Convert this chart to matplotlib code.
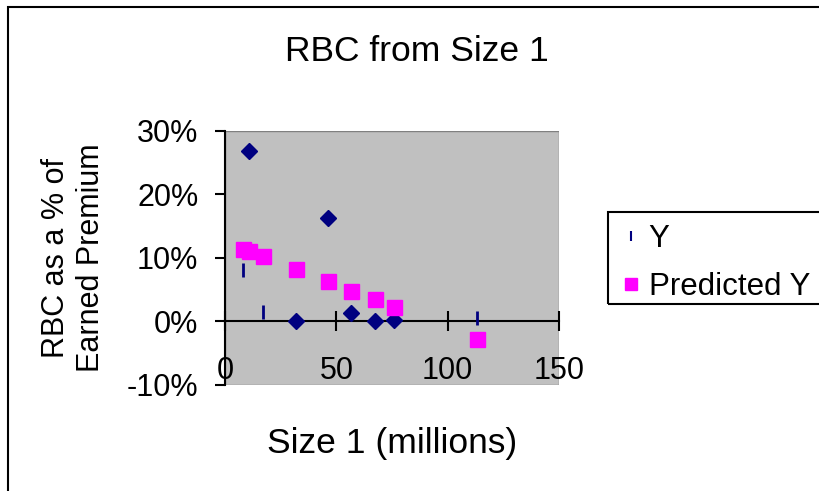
import matplotlib
matplotlib.use("Agg")
import matplotlib.pyplot as plt
from matplotlib.patches import Rectangle
from matplotlib.ticker import FuncFormatter

plt.rcParams["font.family"] = "Liberation Sans"
plt.rcParams["axes.unicode_minus"] = False

# data (size in millions, RBC in %)
size_m = [8.2, 11.0, 17.0, 32.0, 46.3, 56.6, 67.5, 75.7, 113.2]
y_actual = [8.1, 26.8, 1.5, 0.0, 16.2, 1.3, 0.0, 0.3, 0.5]
y_pred = [11.4, 11.0, 10.3, 8.3, 6.3, 4.8, 3.5, 2.3, -2.8]
# excel drew some of the Y points as diamonds, some as dashes
y_marks = ["|", "D", "|", "D", "D", "D", "D", "D", "|"]

navy = "#000080"
pink = "#FF00FF"

fig = plt.figure(figsize=(8.2, 4.91), dpi=100)

# outer chart border (right/bottom fall off the picture)
fig.patches.append(Rectangle((8 / 820, -0.1), 1.2, 1.1 - 7 / 491,
                             transform=fig.transFigure, fill=False,
                             edgecolor="black", lw=1.5))
# legend box, also cut off on the right
fig.patches.append(Rectangle((608 / 820, 1 - 304 / 491), 0.5, (304 - 212) / 491,
                             transform=fig.transFigure, fill=False,
                             edgecolor="black", lw=1.5))

ax = fig.add_axes([225 / 820, 1 - 385 / 491, 334 / 820, 254.3 / 491])
ax.set_facecolor("#C0C0C0")

# diamonds first, no label
dx = [s for s, m in zip(size_m, y_marks) if m == "D"]
dy = [v for v, m in zip(y_actual, y_marks) if m == "D"]
ax.plot(dx, dy, linestyle="none", marker="D", markersize=8.5, color=navy, zorder=3)
tx = [s for s, m in zip(size_m, y_marks) if m == "|"]
ty = [v for v, m in zip(y_actual, y_marks) if m == "|"]
ax.plot(tx, ty, linestyle="none", marker="|", markersize=9.5, markeredgewidth=2,
        color=navy, label="Y", zorder=3)
ax.plot(size_m, y_pred, linestyle="none", marker="s", markersize=10.8, color=pink,
        label="Predicted Y", zorder=3)

ax.set_xlim(0, 150)
ax.set_ylim(-10, 30)
ax.set_xticks([0, 50, 100, 150])
ax.set_yticks([-10, 0, 10, 20, 30])
ax.yaxis.set_major_formatter(FuncFormatter(lambda v, p: f"{v:.0f}%"))

for s in ["top", "right"]:
    ax.spines[s].set_visible(False)
ax.spines["bottom"].set_position(("data", 0))
ax.spines["bottom"].set_linewidth(1.5)
ax.spines["left"].set_linewidth(1.5)
ax.add_patch(Rectangle((0, 0), 1, 1, transform=ax.transAxes, fill=False,
                       edgecolor="#808080", lw=1, zorder=0.5))

ax.tick_params(axis="x", direction="inout", length=13.7, width=1.5, pad=18,
               labelsize=22)
ax.tick_params(axis="y", direction="out", length=7.2, width=1.5, pad=12,
               labelsize=22)

ax.set_xlabel("Size 1 (millions)", fontsize=25.5, va="baseline")
ax.xaxis.set_label_coords(0.5, (385 - 453) / 254.3)
ax.set_ylabel("RBC as a % of\nEarned Premium", fontsize=22, multialignment="center")
ax.yaxis.set_label_coords((106 - 225) / 334, 0.5)

fig.text(417 / 820, 1 - 61 / 491, "RBC from Size 1", ha="center", va="baseline",
         fontsize=25.5)

leg = ax.legend(loc="upper left", bbox_to_anchor=(608 / 820, 1 - 215 / 491),
                bbox_transform=fig.transFigure, borderaxespad=0,
                fontsize=22.5, frameon=False, borderpad=0.3, labelspacing=0.55,
                handlelength=0.9, handletextpad=0.1)
leg.legend_handles[0].set_markersize(6.5)
leg.legend_handles[0].set_markeredgewidth(1.5)
leg.legend_handles[1].set_markersize(9)

fig.savefig("out.png", dpi=100)
